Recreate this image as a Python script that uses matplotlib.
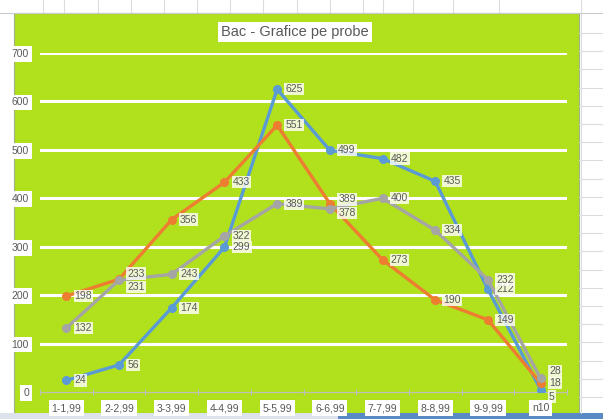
import matplotlib
matplotlib.use("Agg")
import matplotlib.pyplot as plt
from matplotlib.patches import Rectangle

plt.rcParams.update({"font.family": ["Liberation Sans", "DejaVu Sans"]})

categories = ["1-1,99", "2-2,99", "3-3,99", "4-4,99", "5-5,99",
              "6-6,99", "7-7,99", "8-8,99", "9-9,99", "n10"]
blue_vals = [24, 56, 174, 299, 625, 499, 482, 435, 212, 5]
orange_vals = [198, 233, 356, 433, 551, 389, 273, 190, 149, 18]
gray_vals = [132, 231, 243, 322, 389, 378, 400, 334, 232, 28]
yticks = [0, 100, 200, 300, 400, 500, 600, 700]

GREEN = "#B1E01C"
TXT = "#595959"
SERIES = [("blue", blue_vals, "#5B9BD5"), ("orange", orange_vals, "#ED7D31"),
          ("gray", gray_vals, "#A5A5A5")]
# small vertical nudges (points) where labels crowd each other
NUDGE = {("orange", 1): 4, ("gray", 1): -5, ("orange", 5): 3, ("gray", 5): -3,
         ("gray", 9): 5, ("orange", 9): 0, ("blue", 9): -5}

W, H = 603, 419
fig = plt.figure(figsize=(W / 100, H / 100), dpi=100)
fig.patch.set_facecolor("white")

# spreadsheet backdrop (pixel coordinates, origin top-left)
deco = fig.add_axes([0, 0, 1, 1], zorder=-2)
deco.set_xlim(0, W)
deco.set_ylim(H, 0)
deco.axis("off")
for xv in [43, 64, 98, 131, 164, 197, 230, 263, 297, 330, 363, 383, 413, 453, 499, 581]:
    deco.plot([xv, xv], [0, 13], color="#DADCDD", lw=0.8)
deco.plot([0, W], [13, 13], color="#C8CACB", lw=0.8)
yv = 33
while yv < 412:
    deco.plot([579, W], [yv, yv], color="#DADCDD", lw=0.8)
    yv += 18.2
deco.plot([581, 581], [13, 413], color="#DADCDD", lw=0.8)
deco.add_patch(Rectangle((14, 13), 579 - 14, 413 - 13, facecolor=GREEN,
                         edgecolor="#9FB08A", lw=0.8))
deco.add_patch(Rectangle((0, 413), 338, 6, facecolor="#DCE3EC", edgecolor="none"))
deco.add_patch(Rectangle((338, 413), W - 338, 6, facecolor="#5A8AC6", edgecolor="none"))

ax = fig.add_axes([40 / W, (H - 392) / H, (567 - 40) / W, (392 - 53) / H], zorder=1)
ax.set_facecolor("none")
ax.set_xlim(-0.5, len(categories) - 0.5)
ax.set_ylim(0, 700)
for s in ["top", "right", "left"]:
    ax.spines[s].set_visible(False)
ax.spines["bottom"].set_color("#BFBFBF")
ax.set_yticks(yticks)
ax.set_yticklabels([str(v) for v in yticks], color=TXT, fontsize=7.5)
ax.tick_params(axis="y", length=0, pad=8)
ax.set_xticks(range(len(categories)))
ax.set_xticklabels(categories, color=TXT, fontsize=7.5)
ax.tick_params(axis="x", which="major", length=0, pad=8)
ax.set_xticks([i - 0.5 for i in range(len(categories) + 1)], minor=True)
ax.tick_params(axis="x", which="minor", length=5, direction="inout",
               color="#BFBFBF", width=0.8)
for lab in ax.get_xticklabels() + ax.get_yticklabels():
    lab.set_bbox(dict(facecolor="white", edgecolor="none", pad=2))
for y in yticks[1:]:
    ax.axhline(y, color="white", linewidth=2.2, zorder=1)

x = list(range(len(categories)))
for name, vals, col in SERIES:
    ax.plot(x, vals, color=col, linewidth=2.4, marker="o", markersize=5.5,
            zorder=3)
    for xi, v in zip(x, vals):
        dy = NUDGE.get((name, xi), 0)
        ax.annotate(str(v), (xi, v), xytext=(6, dy), textcoords="offset points",
                    fontsize=7.5, color=TXT, ha="left", va="center", zorder=4,
                    bbox=dict(facecolor="white", edgecolor="none", pad=0.8, alpha=0.8))

fig.text(295 / W, (H - 32) / H, "Bac - Grafice pe probe", ha="center",
         va="center", fontsize=10.5, color=TXT,
         bbox=dict(facecolor="white", edgecolor="none", pad=2))

fig.savefig("out.png", dpi=100)
